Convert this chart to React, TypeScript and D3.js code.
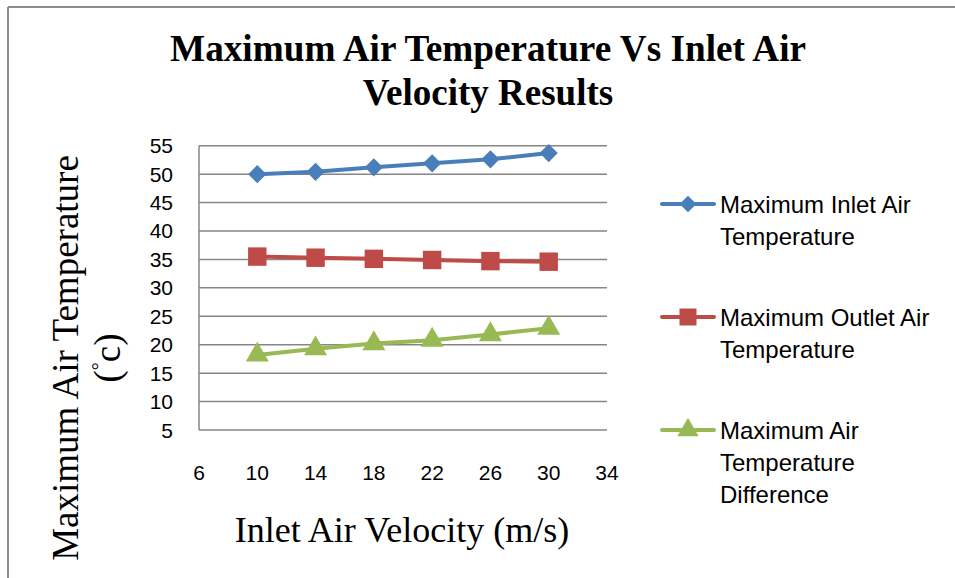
import React from "react";
import * as d3 from "d3";

const velocities = [10, 14, 18, 22, 26, 30];
const inletTemp = [50.0, 50.4, 51.2, 51.9, 52.6, 53.7];
const outletTemp = [35.5, 35.3, 35.1, 34.9, 34.7, 34.6];
const tempDiff = [18.2, 19.3, 20.2, 20.8, 21.8, 22.9];
const xTicks = [6, 10, 14, 18, 22, 26, 30, 34];
const yTicks = [5, 10, 15, 20, 25, 30, 35, 40, 45, 50, 55];
const seriesNames = [
  ["Maximum Inlet Air", "Temperature"],
  ["Maximum Outlet Air", "Temperature"],
  ["Maximum Air", "Temperature", "Difference"],
];

const W = 955;
const H = 578;
const colors = ["#4A7EBB", "#BE4B48", "#98B954"];
const shapes = [d3.symbolSquare, d3.symbolSquare, d3.symbolTriangle];
const rotations = [45, 0, 0];
const sizes = [165, 340, 230];

export default function App() {
  const x = d3.scaleLinear().domain([6, 34]).range([199, 607]);
  const y = d3.scaleLinear().domain([5, 55]).range([430, 145.7]);
  const series = [inletTemp, outletTemp, tempDiff];
  const line = d3
    .line<[number, number]>()
    .x((d) => x(d[0]))
    .y((d) => y(d[1]));
  const sans = "'Liberation Sans', Arial, sans-serif";
  const serif = "'Liberation Serif', 'Times New Roman', serif";
  const legendY = [204, 317, 430];

  return (
    <svg
      width={W}
      height={H}
      style={{ position: "absolute", left: 0, top: 0, background: "#fff" }}
    >
      <rect x={0} y={0} width={W} height={H} fill="#fff" />
      {/* frame */}
      <line x1={8} y1={7} x2={8} y2={H} stroke="#8c8c8c" strokeWidth={2} />
      <line x1={8} y1={7} x2={W} y2={7} stroke="#8c8c8c" strokeWidth={2} />

      {/* title */}
      <text
        x={488}
        y={61}
        textAnchor="middle"
        fontFamily={serif}
        fontWeight="bold"
        fontSize={37}
        textLength={636}
        lengthAdjust="spacingAndGlyphs"
      >
        Maximum Air Temperature Vs Inlet Air
      </text>
      <text
        x={488}
        y={105}
        textAnchor="middle"
        fontFamily={serif}
        fontWeight="bold"
        fontSize={37}
      >
        Velocity Results
      </text>

      {/* gridlines */}
      {yTicks.map((t) => (
        <line
          key={t}
          x1={x(6)}
          x2={x(34)}
          y1={y(t)}
          y2={y(t)}
          stroke="#868686"
          strokeWidth={1.5}
        />
      ))}
      <line x1={x(6)} x2={x(6)} y1={y(55)} y2={y(5)} stroke="#868686" strokeWidth={1.5} />

      {/* y tick labels */}
      {yTicks.map((t) => (
        <text
          key={t}
          x={173}
          y={y(t) + 7.5}
          textAnchor="end"
          fontFamily={sans}
          fontSize={21}
          fill="#000"
        >
          {t}
        </text>
      ))}
      {/* x tick labels */}
      {xTicks.map((t) => (
        <text
          key={t}
          x={x(t)}
          y={480}
          textAnchor="middle"
          fontFamily={sans}
          fontSize={21}
          fill="#000"
        >
          {t}
        </text>
      ))}

      {/* axis titles */}
      <text
        x={402}
        y={542}
        textAnchor="middle"
        fontFamily={serif}
        fontSize={36}
      >
        Inlet Air Velocity (m/s)
      </text>
      <text
        transform="translate(78,358) rotate(-90)"
        textAnchor="middle"
        fontFamily={serif}
        fontSize={37}
      >
        Maximum Air Temperature
      </text>
      <text
        transform="translate(120,358) rotate(-90)"
        textAnchor="middle"
        fontFamily={serif}
        fontSize={37}
      >
        (<tspan fontSize={20} dy={-14}>°</tspan><tspan dy={14}>c)</tspan>
      </text>

      {/* series */}
      {series.map((vals, i) => {
        const pts = velocities.map((v, j) => [v, vals[j]] as [number, number]);
        const sym = d3.symbol().type(shapes[i]).size(sizes[i])();
        return (
          <g key={i}>
            <path d={line(pts) || ""} fill="none" stroke={colors[i]} strokeWidth={4} strokeLinejoin="round" />
            {pts.map((p, j) => (
              <path
                key={j}
                d={sym || ""}
                transform={`translate(${x(p[0])},${y(p[1])}) rotate(${rotations[i]})`}
                fill={colors[i]}
              />
            ))}
          </g>
        );
      })}

      {/* legend */}
      {seriesNames.map((lines, i) => {
        const ly = legendY[i];
        const sym = d3.symbol().type(shapes[i]).size(sizes[i] * 0.85)();
        return (
          <g key={i}>
            <line x1={662} x2={714} y1={ly} y2={ly} stroke={colors[i]} strokeWidth={4} strokeLinecap="round" />
            <path d={sym || ""} transform={`translate(688,${ly}) rotate(${rotations[i]})`} fill={colors[i]} />
            {lines.map((t, k) => (
              <text
                key={k}
                x={720}
                y={ly + 8.5 + k * 32}
                fontFamily={sans}
                fontSize={24}
                fill="#000"
              >
                {t}
              </text>
            ))}
          </g>
        );
      })}
    </svg>
  );
}
